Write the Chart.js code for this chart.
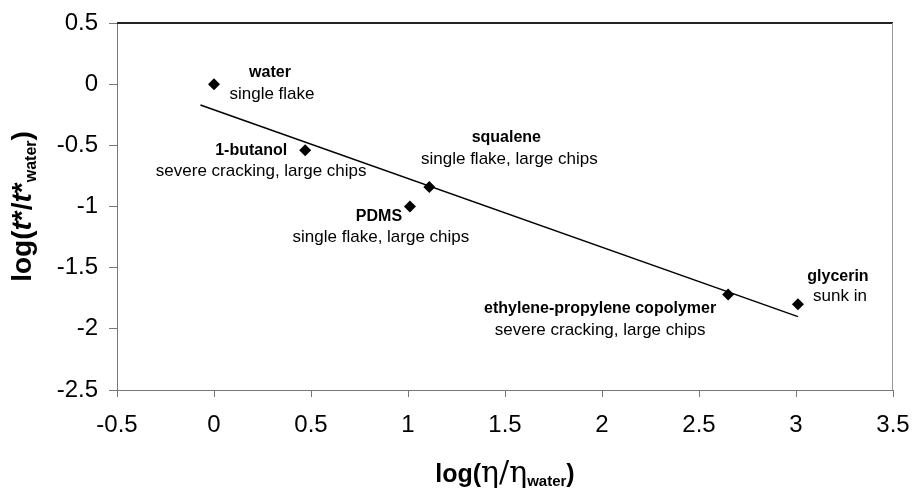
<!DOCTYPE html>
<html>
<head>
<meta charset="utf-8">
<script src="https://cdn.jsdelivr.net/npm/chart.js@4.4.0/dist/chart.umd.min.js"></script>
<style>
  html, body { margin: 0; padding: 0; background: #fff; }
  #wrap { width: 913px; height: 488px; }
</style>
</head>
<body>
<div id="wrap"><canvas id="chart" width="913" height="488"></canvas></div>
<script>
// liquids and what happened to the flake
const liquids = ['water', '1-butanol', 'squalene', 'PDMS', 'ethylene-propylene copolymer', 'glycerin'];
const outcomes = ['single flake', 'severe cracking, large chips', 'single flake, large chips',
                  'single flake, large chips', 'severe cracking, large chips', 'sunk in'];
const logViscosity = [0.0, 0.47, 1.11, 1.01, 2.65, 3.01];
const logTime = [0.0, -0.54, -0.84, -1.0, -1.72, -1.80];
// fitted line end points
const fitX = [-0.07, 3.01];
const fitY = [-0.17, -1.90];

// label offsets in px from the point: name dx, name dy, outcome dx, outcome dy
const labelOffsets = [
  [56, -12, 58, 10], [-54, 0, -44, 21], [77, -49, 80, -28],
  [-31, 10, -29, 31], [-128, 14, -128, 36], [40, -28, 42, -8]
];

const FONT = '"Liberation Sans", Arial, sans-serif';

const labelPlugin = {
  id: 'pointLabels',
  afterDatasetsDraw(chart) {
    const ctx = chart.ctx;
    const xs = chart.scales.x, ys = chart.scales.y;
    ctx.save();
    ctx.fillStyle = '#000';
    ctx.textAlign = 'center';
    ctx.textBaseline = 'middle';
    liquids.forEach((name, i) => {
      const px = xs.getPixelForValue(logViscosity[i]);
      const py = ys.getPixelForValue(logTime[i]);
      const o = labelOffsets[i];
      ctx.font = 'bold 16px ' + FONT;
      ctx.fillText(name, px + o[0], py + o[1]);
      ctx.font = '17px ' + FONT;
      ctx.fillText(outcomes[i], px + o[2], py + o[3]);
    });
    ctx.restore();
  }
};

// draws a row of text pieces with different fonts, centred on x
function drawRuns(ctx, runs, x, y) {
  let total = 0;
  runs.forEach(r => { ctx.font = r.f; total += ctx.measureText(r.t).width; });
  let cx = x - total / 2;
  runs.forEach(r => {
    ctx.font = r.f;
    ctx.fillText(r.t, cx, y + (r.dy || 0));
    cx += ctx.measureText(r.t).width;
  });
}

const framePlugin = {
  id: 'frame',
  afterDraw(chart) {
    const ctx = chart.ctx;
    const a = chart.chartArea;
    ctx.save();
    ctx.strokeStyle = '#222';
    ctx.lineWidth = 2;
    ctx.beginPath();
    ctx.moveTo(a.left, a.top);
    ctx.lineTo(a.right, a.top);
    ctx.stroke();
    ctx.strokeStyle = '#999';
    ctx.lineWidth = 1;
    ctx.beginPath();
    ctx.moveTo(a.right - 0.5, a.top);
    ctx.lineTo(a.right - 0.5, a.bottom);
    ctx.stroke();

    ctx.fillStyle = '#000';
    ctx.textAlign = 'left';
    ctx.textBaseline = 'alphabetic';
    const b = 'bold 25px ' + FONT;
    const sub = 'bold 15px ' + FONT;
    drawRuns(ctx, [
      { t: 'log(', f: b },
      { t: 'η/η', f: '30px "DejaVu Serif", serif' },
      { t: 'water', f: sub, dy: 4 },
      { t: ')', f: b }
    ], (a.left + a.right) / 2, 482);

    ctx.translate(31, (a.top + a.bottom) / 2);
    ctx.rotate(-Math.PI / 2);
    const by = 'bold 28px ' + FONT;
    const bi = 'italic bold 28px ' + FONT;
    drawRuns(ctx, [
      { t: 'log(', f: by },
      { t: 't', f: bi },
      { t: '*/', f: by },
      { t: 't', f: bi },
      { t: '*', f: by },
      { t: 'water', f: 'bold 16px ' + FONT, dy: 5 },
      { t: ')', f: by }
    ], 0, 0);
    ctx.restore();
  }
};

new Chart(document.getElementById('chart'), {
  type: 'scatter',
  data: {
    datasets: [{
      label: 'liquids',
      data: logViscosity.map((v, i) => ({ x: v, y: logTime[i] })),
      pointStyle: 'rectRot',
      pointRadius: 6,
      pointHoverRadius: 6,
      backgroundColor: '#000',
      borderColor: '#000',
      borderWidth: 0
    }, {
      label: 'fit',
      type: 'line',
      data: fitX.map((v, i) => ({ x: v, y: fitY[i] })),
      borderColor: '#000',
      borderWidth: 1.5,
      pointRadius: 0,
      fill: false
    }]
  },
  options: {
    responsive: false,
    animation: false,
    layout: { padding: { top: 23, right: 20, left: 0, bottom: 0 } },
    plugins: {
      legend: { display: false },
      tooltip: { enabled: false },
      title: { display: false }
    },
    scales: {
      x: {
        type: 'linear',
        min: -0.5, max: 3.5,
        ticks: { stepSize: 0.5, padding: 14, color: '#000', font: { family: FONT, size: 24 },
                 callback: v => String(v) },
        grid: { drawOnChartArea: false, drawTicks: true, tickLength: 7, color: '#777' },
        border: { color: '#777', width: 1 },
        afterFit: s => { s.height = 98; s.paddingLeft = 0; s.paddingRight = 0; }
      },
      y: {
        type: 'linear',
        min: -2.5, max: 0.5,
        ticks: { stepSize: 0.5, padding: 11, color: '#000', font: { family: FONT, size: 24 },
                 callback: v => String(v) },
        grid: { drawOnChartArea: false, drawTicks: true, tickLength: 8, color: '#777' },
        border: { color: '#777', width: 1 },
        afterFit: s => { s.width = 117; s.paddingTop = 0; s.paddingBottom = 0; }
      }
    }
  },
  plugins: [labelPlugin, framePlugin]
});
</script>
</body>
</html>
